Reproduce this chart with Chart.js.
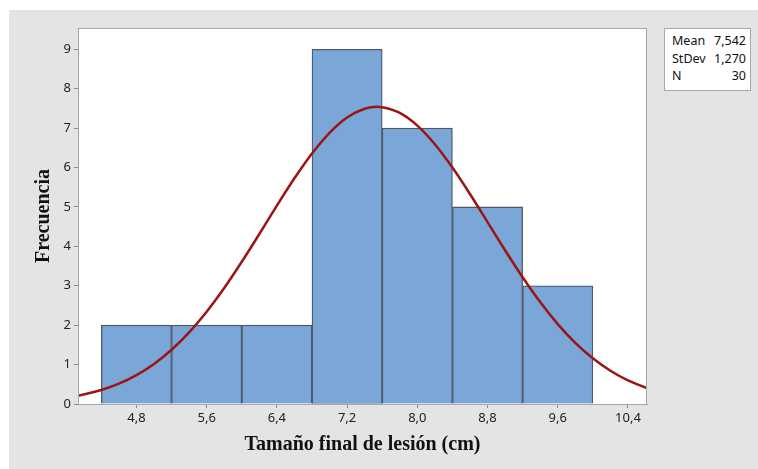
<!DOCTYPE html>
<html>
<head>
<meta charset="utf-8">
<script src="https://cdn.jsdelivr.net/npm/chart.js@4/dist/chart.umd.min.js"></script>
<style>
  html, body { margin:0; padding:0; background:#ffffff; }
  #wrap { position:relative; width:758px; height:469px; overflow:hidden; }
  #bg { position:absolute; left:9px; top:10px; right:0; bottom:0; background:#e4e4e4; }
  #c { position:absolute; left:0; top:0; }
  #stats { position:absolute; left:664px; top:28px; width:87px; height:63px; background:#fff;
           border:1px solid #a9a9a9; box-sizing:border-box; font-family:"Noto Sans", "Open Sans", sans-serif;
           font-size:12.5px; color:#111; padding:3px 4px 0 7px; line-height:17.5px; }
  #stats div { display:flex; justify-content:space-between; }
</style>
</head>
<body>
<div id="wrap">
  <div id="bg"></div>
  <canvas id="c" width="758" height="469"></canvas>
  <div id="stats"></div>
</div>
<script>
// Histogram bins (centre of each bin, width 0.8 cm) and frequencies
const binCenters = [4.8, 5.6, 6.4, 7.2, 8.0, 8.8, 9.6];
const frequencies = [2, 2, 2, 9, 7, 5, 3];
// Fitted normal curve
const curveX = [4.134, 4.4, 4.6, 4.8, 5.0, 5.2, 5.4, 5.6, 5.8, 6.0, 6.2, 6.4, 6.6, 6.8, 7.0, 7.2, 7.4, 7.542, 7.6, 7.8, 8.0, 8.2, 8.4, 8.6, 8.8, 9.0, 9.2, 9.4, 9.6, 9.8, 10.0, 10.2, 10.4, 10.617];
const curveY = [0.206, 0.354, 0.515, 0.733, 1.017, 1.377, 1.818, 2.342, 2.943, 3.608, 4.314, 5.032, 5.726, 6.356, 6.882, 7.271, 7.492, 7.539, 7.531, 7.385, 7.064, 6.592, 6.001, 5.329, 4.616, 3.901, 3.215, 2.585, 2.028, 1.552, 1.159, 0.844, 0.600, 0.402];
// Axis ticks
const xTicks = [4.8, 5.6, 6.4, 7.2, 8.0, 8.8, 9.6, 10.4];
const yTicks = [0, 1, 2, 3, 4, 5, 6, 7, 8, 9];
// Summary statistics
const statLabels = ["Mean", "StDev", "N"];
const statValues = ["7,542", "1,270", "30"];

const stats = document.getElementById('stats');
statLabels.forEach((l, i) => {
  const d = document.createElement('div');
  const a = document.createElement('span'); a.textContent = l;
  const b = document.createElement('span'); b.textContent = statValues[i];
  d.appendChild(a); d.appendChild(b); stats.appendChild(d);
});

const plotFrame = {
  id: 'plotFrame',
  beforeDraw(chart) {
    const {ctx, chartArea: a} = chart;
    ctx.save();
    ctx.fillStyle = '#ffffff';
    ctx.fillRect(a.left, a.top, a.right - a.left, a.bottom - a.top);
    ctx.restore();
  },
  afterDraw(chart) {
    const {ctx, chartArea: a} = chart;
    ctx.save();
    ctx.strokeStyle = '#a8a8a8';
    ctx.lineWidth = 1;
    ctx.strokeRect(a.left + 0.5, a.top + 0.5, a.right - a.left - 1, a.bottom - a.top);
    ctx.restore();
  }
};

const fmt = v => Number(v).toFixed(1).replace('.', ',');

new Chart(document.getElementById('c'), {
  data: {
    datasets: [
      {
        type: 'line',
        data: curveX.map((x, i) => ({x: x, y: curveY[i]})),
        borderColor: '#9c1414',
        borderWidth: 2.5,
        pointRadius: 0,
        cubicInterpolationMode: 'monotone',
        fill: false,
        clip: 0,
        order: 0
      },
      {
        type: 'bar',
        data: binCenters.map((x, i) => ({x: x, y: frequencies[i]})),
        backgroundColor: '#7ba6d8',
        borderColor: '#4b5868',
        borderWidth: 1.3,
        barPercentage: 1.0,
        categoryPercentage: 1.0,
        order: 1
      }
    ]
  },
  options: {
    responsive: false,
    animation: false,
    devicePixelRatio: 1,
    layout: { padding: { left: 9, top: 28, right: 111, bottom: 0 } },
    plugins: { legend: { display: false }, tooltip: { enabled: false } },
    scales: {
      x: {
        type: 'linear',
        offset: false,
        min: 4.134,
        max: 10.617,
        afterBuildTicks: s => { s.ticks = xTicks.map(v => ({value: v})); },
        afterFit: s => { s.height = 65; },
        grid: { offset: false, drawOnChartArea: false, tickLength: 4, color: '#8a8a8a' },
        border: { display: true, color: '#a8a8a8' },
        ticks: { callback: v => fmt(v), color: '#222', font: { family: 'Noto Sans', size: 13 }, padding: 2, maxRotation: 0, autoSkip: false },
        title: { display: true, text: 'Tamaño final de lesión (cm)', color: '#111',
                 font: { family: 'Liberation Serif', size: 20, weight: 'bold' }, padding: { top: 0, bottom: 12 } }
      },
      y: {
        min: 0,
        max: 9.54,
        afterBuildTicks: s => { s.ticks = yTicks.map(v => ({value: v})); },
        afterFit: s => { s.width = 69; },
        grid: { drawOnChartArea: false, tickLength: 4, color: '#8a8a8a' },
        border: { display: true, color: '#a8a8a8' },
        ticks: { callback: v => String(v), color: '#222', font: { family: 'Noto Sans', size: 13 }, padding: 3 },
        title: { display: true, text: 'Frecuencia', color: '#111',
                 font: { family: 'Liberation Serif', size: 20, weight: 'bold' }, padding: { top: 23, bottom: 0 } }
      }
    }
  },
  plugins: [plotFrame]
});
</script>
</body>
</html>
